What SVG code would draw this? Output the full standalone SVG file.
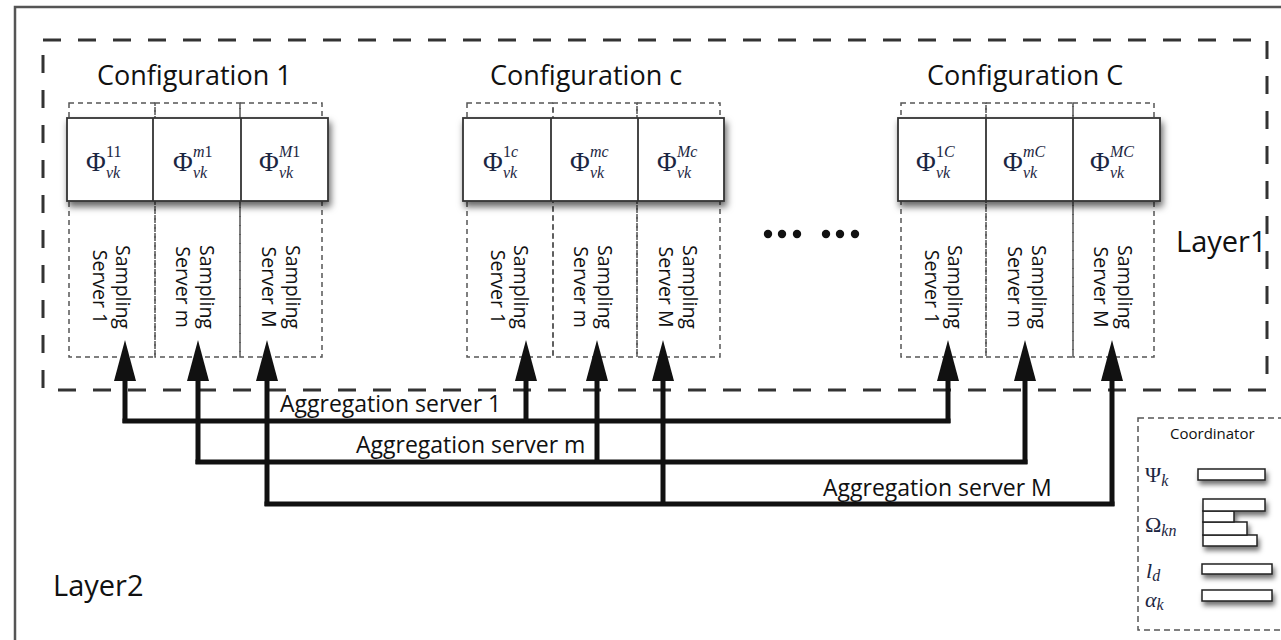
<svg xmlns="http://www.w3.org/2000/svg" width="1281" height="640" viewBox="0 0 1281 640">
<style>
.lbl{font-family:"Open Sans","Liberation Sans",sans-serif;fill:#111;font-weight:500}
.title{font-size:27px}
.layer{font-size:29px}
.agg{font-size:23px}
.samp{font-size:19.5px;text-anchor:middle}
.coord{font-size:15px}
.math{font-family:"Liberation Serif","DejaVu Serif",serif;fill:#1c2642}
.phi{font-size:27px}
.sup{font-size:16px}
.it{font-style:italic}
.cell{fill:#fff;stroke:#333;stroke-width:1.8}
.sdash{fill:none;stroke:#555;stroke-width:1.5;stroke-dasharray:5 4}
.bar{fill:#fff;stroke:#222;stroke-width:1.5}
.wire{fill:none;stroke:#111;stroke-width:5}
.stem{fill:none;stroke:#111;stroke-width:5;marker-end:url(#ah)}
</style>
<defs>
<filter id="sh" x="-10%" y="-20%" width="130%" height="160%">
<feDropShadow dx="2" dy="5" stdDeviation="3.5" flood-color="#000" flood-opacity="0.6"/>
</filter>
<filter id="shs" x="-20%" y="-60%" width="140%" height="260%">
<feDropShadow dx="2" dy="4" stdDeviation="2.5" flood-color="#000" flood-opacity="0.55"/>
</filter>
<marker id="ah" viewBox="0 0 41 22" refX="0" refY="11" markerWidth="41" markerHeight="22" markerUnits="userSpaceOnUse" orient="auto">
<path d="M0,0 L41,11 L0,22 Z" fill="#111"/>
</marker>
</defs>
<rect width="1281" height="640" fill="#fff"/>
<path d="M15,640 L15,7 L1281,7" fill="none" stroke="#555" stroke-width="2.5"/>

<g id="layer1">
<rect x="43" y="40" width="1224" height="350" fill="none" stroke="#333" stroke-width="3" stroke-dasharray="18 17"/>
<text class="lbl layer" x="1176" y="252">Layer1</text>
</g>
<g id="layer2"><text class="lbl layer" x="53" y="596">Layer2</text></g>

<g id="config1">
<text class="lbl title" x="97" y="85">Configuration 1</text>
<rect class="sdash" x="69" y="103" width="86" height="254"/>
<rect class="sdash" x="155" y="103" width="85" height="254"/>
<rect class="sdash" x="240" y="103" width="82" height="254"/>
<g filter="url(#sh)"><rect class="cell" x="67" y="118" width="261" height="83"/></g>
<path d="M153,118 V201 M241,118 V201" stroke="#333" stroke-width="1.8"/>
<text class="math phi" x="86" y="171">Φ</text><text class="math sup" x="106" y="157">11</text><text class="math sup it" x="106" y="178">vk</text>
<text class="math phi" x="173" y="171">Φ</text><text class="math sup" x="193" y="157"><tspan class="it">m</tspan>1</text><text class="math sup it" x="193" y="178">vk</text>
<text class="math phi" x="259" y="171">Φ</text><text class="math sup" x="279" y="157"><tspan class="it">M</tspan>1</text><text class="math sup it" x="279" y="178">vk</text>
<text class="lbl samp" transform="translate(116,287) rotate(90)">Sampling</text>
<text class="lbl samp" transform="translate(93,287) rotate(90)">Server 1</text>
<text class="lbl samp" transform="translate(200,287) rotate(90)">Sampling</text>
<text class="lbl samp" transform="translate(176,287) rotate(90)">Server m</text>
<text class="lbl samp" transform="translate(286,287) rotate(90)">Sampling</text>
<text class="lbl samp" transform="translate(262,287) rotate(90)">Server M</text>
</g>

<g id="configc">
<text class="lbl title" x="490" y="85">Configuration c</text>
<rect class="sdash" x="467" y="103" width="86" height="254"/>
<rect class="sdash" x="553" y="103" width="84" height="254"/>
<rect class="sdash" x="637" y="103" width="83" height="254"/>
<g filter="url(#sh)"><rect class="cell" x="463" y="118" width="261" height="83"/></g>
<path d="M551,118 V201 M638,118 V201" stroke="#333" stroke-width="1.8"/>
<text class="math phi" x="483" y="171">Φ</text><text class="math sup" x="503" y="157">1<tspan class="it">c</tspan></text><text class="math sup it" x="503" y="178">vk</text>
<text class="math phi" x="570" y="171">Φ</text><text class="math sup it" x="590" y="157">mc</text><text class="math sup it" x="590" y="178">vk</text>
<text class="math phi" x="657" y="171">Φ</text><text class="math sup it" x="677" y="157">Mc</text><text class="math sup it" x="677" y="178">vk</text>
<text class="lbl samp" transform="translate(514,287) rotate(90)">Sampling</text>
<text class="lbl samp" transform="translate(491,287) rotate(90)">Server 1</text>
<text class="lbl samp" transform="translate(598,287) rotate(90)">Sampling</text>
<text class="lbl samp" transform="translate(574,287) rotate(90)">Server m</text>
<text class="lbl samp" transform="translate(683,287) rotate(90)">Sampling</text>
<text class="lbl samp" transform="translate(659,287) rotate(90)">Server M</text>
</g>

<g id="configC">
<text class="lbl title" x="927" y="85">Configuration C</text>
<rect class="sdash" x="901" y="103" width="85" height="254"/>
<rect class="sdash" x="986" y="103" width="87" height="254"/>
<rect class="sdash" x="1073" y="103" width="81" height="254"/>
<g filter="url(#sh)"><rect class="cell" x="898" y="118" width="262" height="83"/></g>
<path d="M986,118 V201 M1073,118 V201" stroke="#333" stroke-width="1.8"/>
<text class="math phi" x="916" y="171">Φ</text><text class="math sup" x="936" y="157">1<tspan class="it">C</tspan></text><text class="math sup it" x="936" y="178">vk</text>
<text class="math phi" x="1003" y="171">Φ</text><text class="math sup it" x="1023" y="157">mC</text><text class="math sup it" x="1023" y="178">vk</text>
<text class="math phi" x="1090" y="171">Φ</text><text class="math sup it" x="1110" y="157">MC</text><text class="math sup it" x="1110" y="178">vk</text>
<text class="lbl samp" transform="translate(948,287) rotate(90)">Sampling</text>
<text class="lbl samp" transform="translate(925,287) rotate(90)">Server 1</text>
<text class="lbl samp" transform="translate(1032,287) rotate(90)">Sampling</text>
<text class="lbl samp" transform="translate(1008,287) rotate(90)">Server m</text>
<text class="lbl samp" transform="translate(1118,287) rotate(90)">Sampling</text>
<text class="lbl samp" transform="translate(1094,287) rotate(90)">Server M</text>
</g>

<g id="ellipsis" fill="#111">
<circle cx="768" cy="234" r="4.2"/><circle cx="782" cy="234" r="4.2"/><circle cx="797" cy="234" r="4.2"/>
<circle cx="826" cy="234" r="4.2"/><circle cx="840" cy="234" r="4.2"/><circle cx="855" cy="234" r="4.2"/>
</g>

<g id="connectors">
<path class="wire" d="M122.5,421 H950.5"/>
<path class="stem" d="M125,423 V381"/>
<path class="stem" d="M526,423 V381"/>
<path class="stem" d="M948,423 V381"/>
<path class="wire" d="M195.5,462 H1027.5"/>
<path class="stem" d="M198,464 V381"/>
<path class="stem" d="M597,464 V381"/>
<path class="stem" d="M1025,464 V381"/>
<path class="wire" d="M264.5,504 H1114.5"/>
<path class="stem" d="M267,506 V381"/>
<path class="stem" d="M663,506 V381"/>
<path class="stem" d="M1112,506 V381"/>
<text class="lbl agg" x="280" y="412">Aggregation server 1</text>
<text class="lbl agg" x="356" y="453">Aggregation server m</text>
<text class="lbl agg" x="823" y="496">Aggregation server M</text>
</g>

<g id="coordinator">
<rect x="1138" y="418" width="160" height="212" fill="none" stroke="#555" stroke-width="1.5" stroke-dasharray="6 4"/>
<text class="lbl coord" x="1170" y="439">Coordinator</text>
<g filter="url(#shs)">
<rect class="bar" x="1198" y="469" width="67" height="11"/>
<rect class="bar" x="1203" y="535" width="54" height="11"/>
<rect class="bar" x="1203" y="522" width="44" height="13"/>
<rect class="bar" x="1203" y="511" width="31" height="11"/>
<rect class="bar" x="1203" y="499" width="62" height="12"/>
<rect class="bar" x="1202" y="564" width="70" height="10"/>
<rect class="bar" x="1202" y="590" width="70" height="11"/>
</g>
<text class="math" x="1145" y="482" font-size="22">Ψ<tspan class="it" font-size="16" dy="4">k</tspan></text>
<text class="math" x="1145" y="532" font-size="22">Ω<tspan class="it" font-size="16" dy="4">kn</tspan></text>
<text class="math it" x="1146" y="578" font-size="22">l<tspan font-size="16" dy="3">d</tspan></text>
<text class="math it" x="1145" y="607" font-size="22">α<tspan font-size="16" dy="3">k</tspan></text>
</g>
</svg>
